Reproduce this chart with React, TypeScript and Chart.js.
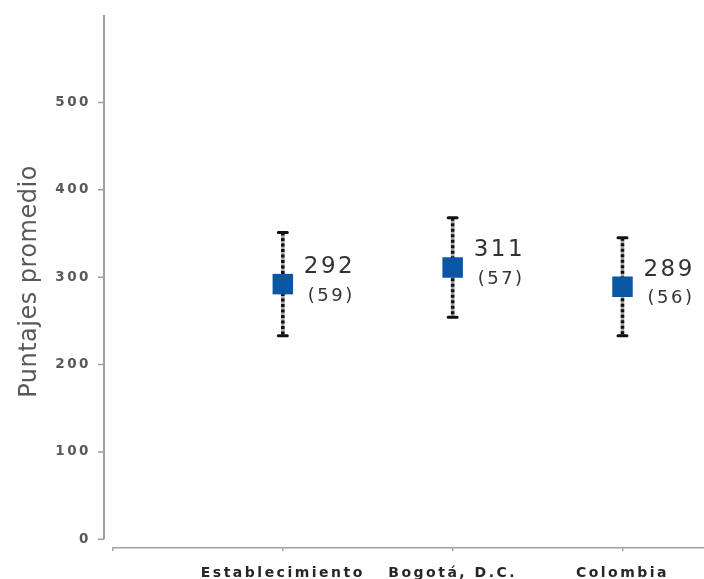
import React, { useEffect, useRef } from "react";
import { Chart, registerables } from "chart.js";

Chart.register(...registerables);

const categories = ["Establecimiento", "Bogotá, D.C.", "Colombia"];
const categoryPositions = [1, 2, 3];
const means = [292, 311, 289];
const deviations = [59, 57, 56];
const yTickValues = [0, 100, 200, 300, 400, 500];
const xTickValues = [0, 1, 2, 3];
const yTitle = "Puntajes promedio";

const FONT = "'DejaVu Sans', Verdana, sans-serif";
const SPACING = "2.5px";
const TITLE_SPACING = "0.5px";

export default function App() {
  const ref = useRef<HTMLCanvasElement>(null);

  useEffect(() => {
    const canvas = ref.current;
    if (!canvas) return;

    const plugin = {
      id: "errorBarsAndLabels",
      beforeLayout(chart: any) {
        (chart.ctx as any).letterSpacing = SPACING;
      },
      beforeDraw(chart: any) {
        (chart.ctx as any).letterSpacing = TITLE_SPACING;
      },
      beforeDatasetsDraw(chart: any) {
        const { ctx } = chart;
        const x = chart.scales.x;
        const y = chart.scales.y;
        ctx.save();
        means.forEach((m, i) => {
          const px = x.getPixelForValue(categoryPositions[i]);
          const top = y.getPixelForValue(m + deviations[i]);
          const bot = y.getPixelForValue(m - deviations[i]);
          ctx.lineCap = "butt";
          ctx.setLineDash([]);
          ctx.strokeStyle = "#a8a8a8";
          ctx.lineWidth = 3.5;
          ctx.beginPath();
          ctx.moveTo(px, top);
          ctx.lineTo(px, bot);
          ctx.stroke();
          ctx.setLineDash([3, 2.5]);
          ctx.strokeStyle = "#111";
          ctx.beginPath();
          ctx.moveTo(px, top);
          ctx.lineTo(px, bot);
          ctx.stroke();
          ctx.setLineDash([]);
          ctx.lineCap = "round";
          ctx.lineWidth = 3;
          ctx.beginPath();
          ctx.moveTo(px - 4.5, top);
          ctx.lineTo(px + 4.5, top);
          ctx.moveTo(px - 4.5, bot);
          ctx.lineTo(px + 4.5, bot);
          ctx.stroke();
        });
        ctx.restore();
      },
      afterDatasetsDraw(chart: any) {
        const { ctx } = chart;
        const x = chart.scales.x;
        const y = chart.scales.y;
        ctx.save();
        (ctx as any).letterSpacing = SPACING;
        ctx.fillStyle = "#333";
        ctx.textAlign = "left";
        ctx.textBaseline = "middle";
        means.forEach((m, i) => {
          const px = x.getPixelForValue(categoryPositions[i]);
          const py = y.getPixelForValue(m);
          ctx.font = `23px ${FONT}`;
          ctx.fillText(String(m), px + 21, py - 17);
          ctx.font = `18px ${FONT}`;
          ctx.fillText(`(${deviations[i]})`, px + 25, py + 12);
        });
        ctx.restore();
        // spacing for tick labels drawn afterwards (ticks z = 1)
        (ctx as any).letterSpacing = SPACING;
      },
      afterDraw(chart: any) {
        const { ctx } = chart;
        const y = chart.scales.y;
        const axisX = chart.chartArea.left - 9;
        ctx.save();
        ctx.strokeStyle = "#a0a0a0";
        ctx.lineWidth = 2;
        ctx.beginPath();
        ctx.moveTo(axisX, y.getPixelForValue(600));
        ctx.lineTo(axisX, y.getPixelForValue(0));
        ctx.stroke();
        ctx.lineWidth = 1.5;
        ctx.beginPath();
        yTickValues.forEach((v) => {
          const py = y.getPixelForValue(v);
          ctx.moveTo(axisX - 6, py);
          ctx.lineTo(axisX, py);
        });
        ctx.stroke();
        ctx.restore();
        (ctx as any).letterSpacing = "0px";
      },
    };

    const chart = new Chart(canvas, {
      type: "scatter",
      data: {
        datasets: [
          {
            data: means.map((m, i) => ({ x: categoryPositions[i], y: m })),
            pointStyle: "rect",
            pointRadius: 14.5,
            pointHoverRadius: 14.5,
            backgroundColor: "#0B57A4",
            borderColor: "#0B57A4",
            borderWidth: 0,
          },
        ],
      },
      options: {
        responsive: false,
        animation: false,
        layout: { autoPadding: false, padding: { top: 15, left: 0, right: 0, bottom: 0 } },
        plugins: {
          legend: { display: false },
          tooltip: { enabled: false },
        },
        scales: {
          x: {
            type: "linear",
            min: 0,
            max: 3.48,
            afterBuildTicks: (s: any) => {
              s.ticks = xTickValues.map((v) => ({ value: v }));
            },
            afterFit: (s: any) => {
              s.height = 31;
              s.paddingLeft = 0;
              s.paddingRight = 0;
            },
            ticks: {
              z: 1,
              autoSkip: false,
              maxRotation: 0,
              minRotation: 0,
              padding: 14,
              color: "#262626",
              font: { family: FONT, size: 14, weight: "bold" },
              callback: (v: any) => {
                const idx = categoryPositions.indexOf(Number(v));
                return idx >= 0 ? categories[idx] : "";
              },
            },
            grid: {
              display: true,
              drawOnChartArea: false,
              drawTicks: true,
              tickLength: 3,
              color: "#a0a0a0",
              lineWidth: 1.5,
            },
            border: { display: true, color: "#a0a0a0", width: 1.5 },
          },
          y: {
            type: "linear",
            min: -10,
            max: 600,
            afterBuildTicks: (s: any) => {
              s.ticks = yTickValues.map((v) => ({ value: v }));
            },
            afterFit: (s: any) => {
              s.width = 113;
              s.paddingTop = 0;
              s.paddingBottom = 0;
            },
            ticks: {
              z: 1,
              padding: 22,
              color: "#595959",
              font: { family: FONT, size: 13.5, weight: "bold" },
            },
            grid: { display: false, drawTicks: false },
            border: { display: false },
            title: {
              display: true,
              text: yTitle,
              color: "#595959",
              font: { family: FONT, size: 24 },
              padding: { top: 15, bottom: 0 },
            },
          },
        },
      },
      plugins: [plugin],
    });

    return () => chart.destroy();
  }, []);

  return (
    <div style={{ position: "fixed", left: 0, top: 0, width: 704, height: 579, background: "#fff" }}>
      <canvas ref={ref} width={704} height={579} style={{ display: "block" }} />
    </div>
  );
}
